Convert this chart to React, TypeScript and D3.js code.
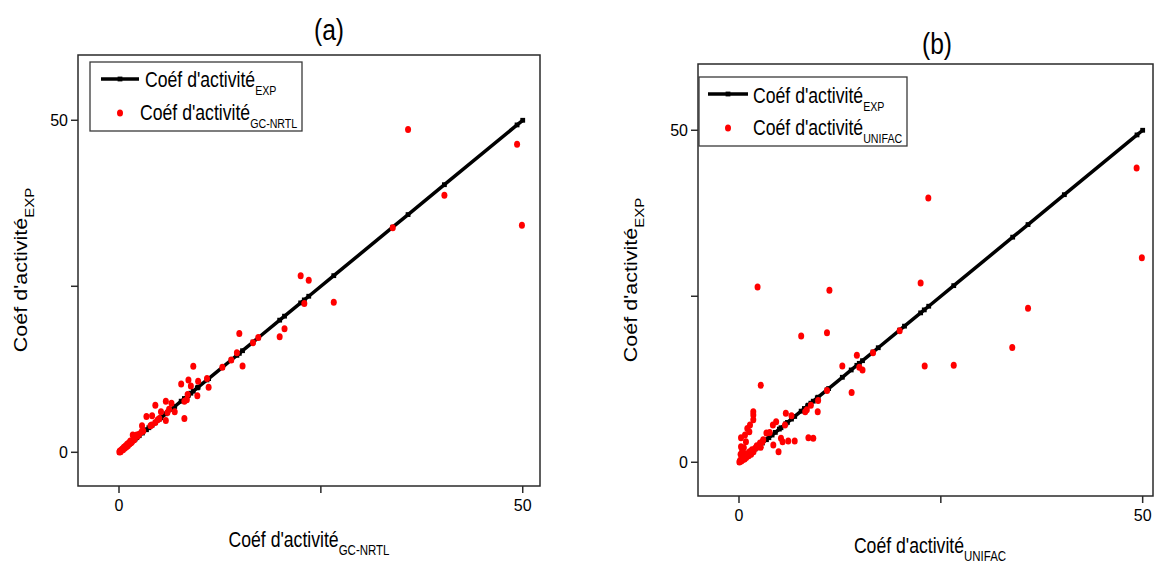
import React from 'react';
import * as d3 from 'd3';

const W = 1154;
const H = 567;

// Experimental activity coefficients, drawn as the y = x reference line with square markers
const expGamma = [
  0.05, 0.15, 0.3, 0.45, 0.6, 0.75, 0.9, 1.05, 1.2, 1.35, 1.5, 1.6, 1.8, 2.0, 2.2, 2.5,
  2.9, 3.4, 3.7, 4.1, 4.5, 5.0, 5.2, 5.8, 6.0, 6.5, 6.9, 7.7, 8.1, 8.5, 8.6, 8.9, 9.2,
  9.7, 9.8, 10.9, 11.1, 12.8, 13.9, 14.6, 14.9, 15.3, 16.6, 17.25, 19.9, 20.5, 22.5,
  22.95, 23.5, 26.6, 33.9, 35.8, 40.3, 49.3, 50,
];

// GC-NRTL predictions
const nrtlX = [
  35.8, 49.3, 40.3, 49.9, 33.9, 22.5, 23.5, 22.95, 26.6, 19.9, 20.5, 14.9, 17.25, 16.6,
  15.3, 14.6, 13.9, 12.8, 9.2, 11.1, 10.9, 9.8, 8.6, 8.9, 7.7, 9.7, 8.5, 8.1, 8.4, 8.1,
  5.8, 6.5, 4.5, 6.9, 5.2, 6.0, 6.2, 4.1, 3.4, 5.8, 5.0, 4.8, 2.85, 3.9, 4.05, 4.5, 2.8,
  1.8, 2.2, 1.6, 1.7,
  0.05, 0.1, 0.2, 0.3, 0.4, 0.5, 0.6, 0.7, 0.8, 0.9, 1.0, 1.1, 1.2, 1.3, 1.4, 1.5, 1.9,
  2.0, 2.3, 2.5, 3.0,
];
const nrtlY = [
  48.6, 46.4, 38.7, 34.2, 33.8, 26.6, 25.9, 22.4, 22.6, 17.4, 18.6, 17.9, 17.3, 16.5,
  13.0, 15.0, 13.9, 12.8, 12.95, 9.8, 11.1, 10.7, 10.9, 10.0, 10.3, 8.5, 8.7, 7.7, 7.9, 5.1,
  7.7, 7.4, 7.1, 6.1, 6.1, 6.0, 6.5, 5.5, 5.4, 4.8, 5.1, 4.9, 4.0, 4.0, 4.1, 4.5, 3.1,
  2.5, 2.6, 1.6, 2.6,
  0.05, 0.2, 0.1, 0.35, 0.5, 0.4, 0.75, 0.6, 0.95, 0.8, 1.2, 1.0, 1.4, 1.25, 1.7, 1.45, 1.9,
  2.3, 2.4, 2.7, 3.2,
];

// UNIFAC predictions
const unifacX = [
  49.25, 23.45, 49.9, 22.5, 2.3, 11.2, 35.8, 7.7, 10.9, 19.9, 33.85, 14.6, 16.6, 12.8,
  15.3, 14.9, 23.0, 26.6, 13.95, 10.9, 2.7, 9.8, 9.75, 8.9, 8.2, 8.4, 5.8, 6.5, 4.6, 4.2,
  5.7, 8.6, 9.2, 6.1, 6.9, 5.2, 5.4, 4.25, 4.9, 3.4, 3.8, 3.0, 2.9, 2.7,
  1.77, 1.77, 1.77, 1.36, 1.03, 1.28, 0.74, 0.86, 0.25, 0.25,
  0.05, 0.15, 0.3, 0.4, 0.5, 0.6, 0.7, 0.8, 0.9, 1.0, 1.2, 1.3, 1.5, 1.6, 1.8, 2.0, 2.2,
  2.4, 2.6, 0.2, 0.4, 0.6,
];
const unifacY = [
  44.3, 39.8, 30.8, 27.0, 26.4, 25.9, 23.2, 19.0, 19.5, 19.8, 17.3, 16.1, 16.5, 14.5,
  13.9, 14.3, 14.5, 14.6, 10.5, 10.8, 11.6, 9.3, 7.6, 8.6, 7.6, 7.9, 7.4, 7.0, 6.1, 5.6,
  5.6, 3.7, 3.6, 3.2, 3.2, 3.6, 3.1, 2.6, 1.6, 4.4, 4.5, 3.4, 3.1, 2.26,
  7.6, 7.1, 6.4, 5.6, 5.1, 4.6, 4.1, 3.1, 3.7, 2.35,
  0.05, 0.3, 0.2, 0.6, 0.4, 0.9, 0.5, 1.1, 0.7, 1.3, 1.0, 1.6, 1.2, 1.9, 1.6, 2.1, 2.5,
  2.3, 2.9, 1.2, 1.8, 2.2,
];

const axisTicks = [0, 25, 50];
const tickLabels = ['0', '', '50'];
const panelTitles = ['(a)', '(b)'];
const modelNames = ['GC-NRTL', 'UNIFAC'];
const mainLabel = "Coéf d'activité";
const expName = 'EXP';

const FONT = "'Liberation Sans', Arial, sans-serif";
const SQUEEZE = 0.82;
const RED = '#ff0000';
const DOT_RX = 3;
const DOT_RY = 3.5;

type Layout = {
  left: number; right: number; top: number; bottom: number;
  xDomain: [number, number]; yDomain: [number, number];
  titleX: number; titleY: number;
  legend: {
    x: number; y: number; w: number; h: number;
    lineX1: number; lineX2: number; lineY: number; text1X: number; text1Y: number;
    dotX: number; dotY: number; text2X: number; text2Y: number;
  };
  xLabelX: number; xLabelY: number; yLabelX: number; yLabelY: number;
};

const layouts: Layout[] = [
  {
    left: 78, right: 540, top: 55, bottom: 486,
    xDomain: [-5.078, 52.14], yDomain: [-5.075, 59.83],
    titleX: 329, titleY: 40,
    legend: {
      x: 90, y: 62, w: 212, h: 69,
      lineX1: 101, lineX2: 139, lineY: 79, text1X: 145, text1Y: 87,
      dotX: 120, dotY: 113, text2X: 140, text2Y: 120,
    },
    xLabelX: 309, xLabelY: 547, yLabelX: 27, yLabelY: 270,
  },
  {
    left: 698, right: 1153, top: 64, bottom: 496,
    xDomain: [-5.078, 51.28], yDomain: [-5.08, 59.98],
    titleX: 937, titleY: 54,
    legend: {
      x: 699, y: 77, w: 208, h: 69,
      lineX1: 708, lineX2: 748, lineY: 94, text1X: 753, text1Y: 103,
      dotX: 728, dotY: 128, text2X: 753, text2Y: 135,
    },
    xLabelX: 930, xLabelY: 553, yLabelX: 637, yLabelY: 280,
  },
];

function SubLabel({ sub, size, subSize, anchor, dy }: { sub: string; size: number; subSize: number; anchor: string; dy: number }) {
  return (
    <text x={0} y={0} fontFamily={FONT} fontSize={size} fill="#000" textAnchor={anchor}>
      <tspan>{mainLabel}</tspan>
      <tspan fontSize={subSize} dy={dy}>{sub}</tspan>
    </text>
  );
}

function Panel({ lay, xs, ys, model, title }: { lay: Layout; xs: number[]; ys: number[]; model: string; title: string }) {
  const x = d3.scaleLinear().domain(lay.xDomain).range([lay.left, lay.right]);
  const y = d3.scaleLinear().domain(lay.yDomain).range([lay.bottom, lay.top]);
  const line = d3.line<number>().x((d) => x(d)).y((d) => y(d));
  const sorted = [...expGamma].sort((a, b) => a - b);
  const L = lay.legend;
  const ms = 4.8;

  return (
    <g>
      <text
        transform={`translate(${lay.titleX},${lay.titleY}) scale(${SQUEEZE},1)`}
        textAnchor="middle" fontFamily={FONT} fontSize={30} fill="#000"
      >{title}</text>

      {/* experimental reference line */}
      <path d={line(sorted) || ''} fill="none" stroke="#000" strokeWidth={3.5} strokeLinejoin="round" />
      {sorted.map((v, i) => (
        <rect key={`m${i}`} x={x(v) - ms / 2} y={y(v) - ms / 2} width={ms} height={ms} fill="#000" />
      ))}

      {/* model predictions */}
      {xs.map((v, i) => (
        <ellipse key={`p${i}`} cx={x(v)} cy={y(ys[i])} rx={DOT_RX} ry={DOT_RY} fill={RED} />
      ))}

      {/* frame */}
      <rect x={lay.left} y={lay.top} width={lay.right - lay.left} height={lay.bottom - lay.top}
        fill="none" stroke="#2a2a2a" strokeWidth={1.5} />

      {axisTicks.map((t, i) => (
        <g key={`xt${i}`}>
          <line x1={x(t)} x2={x(t)} y1={lay.bottom} y2={lay.bottom + 7} stroke="#2a2a2a" strokeWidth={1.5} />
          <text x={x(t)} y={lay.bottom + 25} textAnchor="middle" fontFamily={FONT} fontSize={16} fill="#000">{tickLabels[i]}</text>
        </g>
      ))}
      {axisTicks.map((t, i) => (
        <g key={`yt${i}`}>
          <line x1={lay.left - 7} x2={lay.left} y1={y(t)} y2={y(t)} stroke="#2a2a2a" strokeWidth={1.5} />
          <text x={lay.left - 10} y={y(t) + 5.5} textAnchor="end" fontFamily={FONT} fontSize={16} fill="#000">{tickLabels[i]}</text>
        </g>
      ))}

      {/* legend */}
      <rect x={L.x} y={L.y} width={L.w} height={L.h} fill="#fff" stroke="#3a3a3a" strokeWidth={1.3} />
      <line x1={L.lineX1} x2={L.lineX2} y1={L.lineY} y2={L.lineY} stroke="#000" strokeWidth={3.5} />
      <rect x={(L.lineX1 + L.lineX2) / 2 - ms / 2} y={L.lineY - ms / 2} width={ms} height={ms} fill="#000" />
      <g transform={`translate(${L.text1X},${L.text1Y}) scale(${SQUEEZE},1)`}>
        <SubLabel sub={expName} size={21.5} subSize={13} anchor="start" dy={7.5} />
      </g>
      <ellipse cx={L.dotX} cy={L.dotY} rx={DOT_RX} ry={DOT_RY} fill={RED} />
      <g transform={`translate(${L.text2X},${L.text2Y}) scale(${SQUEEZE},1)`}>
        <SubLabel sub={model} size={21.5} subSize={13} anchor="start" dy={7.5} />
      </g>

      {/* axis titles */}
      <g transform={`translate(${lay.xLabelX},${lay.xLabelY}) scale(${SQUEEZE},1)`}>
        <SubLabel sub={model} size={21.5} subSize={14} anchor="middle" dy={8} />
      </g>
      <g transform={`translate(${lay.yLabelX},${lay.yLabelY}) scale(${SQUEEZE},1) rotate(-90)`}>
        <SubLabel sub={expName} size={21.5} subSize={15} anchor="middle" dy={8} />
      </g>
    </g>
  );
}

export default function App() {
  return (
    <svg width={W} height={H} viewBox={`0 0 ${W} ${H}`}
      style={{ position: 'absolute', left: 0, top: 0, background: '#fff', display: 'block' }}>
      <rect x={0} y={0} width={W} height={H} fill="#fff" />
      <Panel lay={layouts[0]} xs={nrtlX} ys={nrtlY} model={modelNames[0]} title={panelTitles[0]} />
      <Panel lay={layouts[1]} xs={unifacX} ys={unifacY} model={modelNames[1]} title={panelTitles[1]} />
    </svg>
  );
}
